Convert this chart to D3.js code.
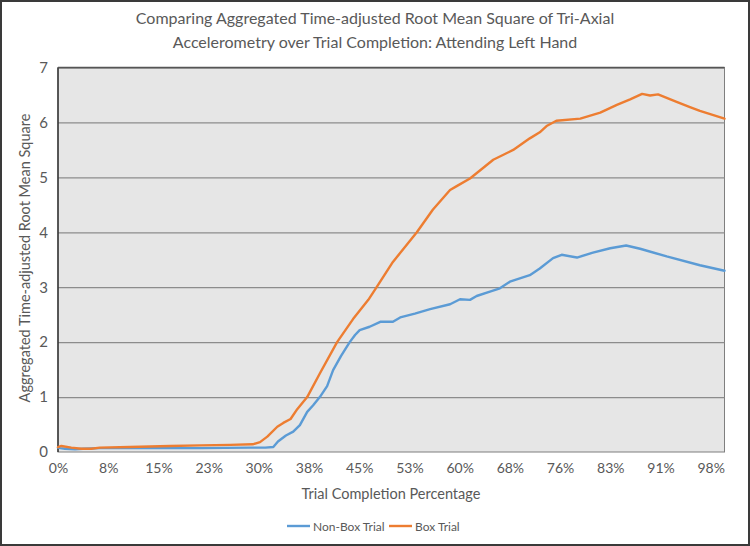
<!DOCTYPE html>
<html><head><meta charset="utf-8">
<script src="https://cdn.jsdelivr.net/npm/d3@7"></script>
<style>
body{margin:0;background:#fff}
svg{display:block}
text{font-family:Lato,"Liberation Sans",sans-serif;fill:#595959}
</style>
</head><body>
<svg id="chart" width="750" height="546"></svg>
<script>
const titleLines = ["Comparing Aggregated Time-adjusted Root Mean Square of Tri-Axial",
                    "Accelerometry over Trial Completion: Attending Left Hand"];
const xAxisTitle = "Trial Completion Percentage";
const yAxisTitle = "Aggregated Time-adjusted Root Mean Square";
const xTickLabels = ["0%","8%","15%","23%","30%","38%","45%","53%","60%","68%","76%","83%","91%","98%"];
const xTickValues = [0,7.56,15.11,22.67,30.22,37.78,45.33,52.89,60.44,68.0,75.56,83.11,90.67,98.22];
const yTicks = [0,1,2,3,4,5,6,7];
const seriesNames = ["Non-Box Trial","Box Trial"];
const seriesColors = ["#5b9bd5","#ed7d31"];

// Non-Box Trial (completion %, value)
const nonBoxX = [0,0.3,1.05,2.56,3.76,6.3,13.8,21.4,28.9,31.2,32.4,33.1,34.3,35.4,36.4,37.5,38.4,39.4,40.5,41.4,42.6,43.9,44.7,45.4,46.9,48.5,50.4,51.5,53.7,56.0,59.0,60.5,62.0,63.0,65.0,66.5,68.0,71.0,72.5,74.5,75.8,78.1,80.5,83.1,85.5,87.6,91.6,96.6,100.3];
const nonBoxY = [0.08,0.07,0.06,0.05,0.06,0.07,0.07,0.07,0.08,0.08,0.09,0.19,0.30,0.37,0.49,0.73,0.85,1.00,1.20,1.49,1.75,2.00,2.13,2.22,2.28,2.37,2.37,2.45,2.52,2.60,2.69,2.78,2.77,2.84,2.92,2.98,3.10,3.22,3.34,3.53,3.59,3.54,3.63,3.71,3.76,3.70,3.56,3.40,3.30];

// Box Trial (completion %, value)
const boxX = [0,0.5,2.0,3.5,5.0,6.3,10.8,16.9,21.4,25.9,29.3,30.4,31.5,33.0,33.9,35.0,36.0,37.5,39.4,42.0,44.4,46.7,48.0,50.4,54.0,56.4,59.0,60.0,62.0,65.5,68.5,71.0,72.5,73.6,75.0,78.6,81.6,84.1,86.1,87.9,89.1,90.3,93.0,95.1,96.6,100.3];
const boxY = [0.09,0.11,0.08,0.06,0.06,0.08,0.09,0.11,0.12,0.13,0.14,0.18,0.28,0.46,0.53,0.60,0.78,1.00,1.43,2.00,2.42,2.77,3.01,3.46,4.00,4.41,4.77,4.84,4.98,5.32,5.50,5.71,5.82,5.94,6.03,6.07,6.18,6.32,6.42,6.52,6.49,6.51,6.38,6.28,6.21,6.07];

const svg = d3.select("#chart");
const W = 750, H = 546;
const m = {left:58, right:25.5, top:67.5, bottom:94};
const x = d3.scaleLinear().domain([0,100.3]).range([m.left, W - m.right]);
const y = d3.scaleLinear().domain([0,7]).range([H - m.bottom, m.top]);

// outer frame
svg.append("rect").attr("x",1).attr("y",1).attr("width",W-2).attr("height",H-2)
  .attr("fill","#fff").attr("stroke","#3a3a3a").attr("stroke-width",2);

// plot area
svg.append("rect").attr("x",x(0)).attr("y",y(7)).attr("width",x(100.3)-x(0)).attr("height",y(0)-y(7))
  .attr("fill","#e6e6e6").attr("stroke","#7f7f7f").attr("stroke-width",1);

// gridlines
const yAxis = d3.axisLeft(y).tickValues(yTicks).tickSize(-(x(100.3)-x(0))).tickFormat(d3.format("d")).tickPadding(10);
const gy = svg.append("g").attr("transform",`translate(${m.left},0)`).call(yAxis);
gy.select(".domain").remove();
gy.selectAll(".tick line").attr("stroke","#8c8c8c").attr("stroke-width",1.3)
  .filter(d => d === 0).attr("stroke","none");
gy.selectAll(".tick text").attr("font-size",15).style("fill","#595959");

// left axis line
svg.append("line").attr("x1",x(0)).attr("x2",x(0)).attr("y1",y(7)).attr("y2",y(0))
  .attr("stroke","#222").attr("stroke-width",1.3);
// top border
svg.append("line").attr("x1",x(0)).attr("x2",x(100.3)).attr("y1",y(7)).attr("y2",y(7))
  .attr("stroke","#555").attr("stroke-width",1.3);

// x axis labels
const xAxis = d3.axisBottom(x).tickValues(xTickValues).tickSize(0).tickPadding(11)
  .tickFormat((d,i) => xTickLabels[i]);
const gx = svg.append("g").attr("transform",`translate(0,${y(0)})`).call(xAxis);
gx.select(".domain").remove();
gx.selectAll(".tick text").attr("font-size",14).style("fill","#595959");

// lines
const line = d3.line().x(d => x(d[0])).y(d => y(d[1]));
const series = [d3.zip(nonBoxX, nonBoxY), d3.zip(boxX, boxY)];
series.forEach((s,i) => {
  svg.append("path").datum(s).attr("d", line).attr("fill","none")
    .attr("stroke", seriesColors[i]).attr("stroke-width",2.4)
    .attr("stroke-linejoin","round").attr("stroke-linecap","round");
});

// titles
titleLines.forEach((t,i) => {
  svg.append("text").attr("x",375).attr("y",24 + i*24).attr("text-anchor","middle")
    .attr("font-size",16).text(t);
});
svg.append("text").attr("x",391).attr("y",499).attr("text-anchor","middle")
  .attr("font-size",14.5).text(xAxisTitle);
svg.append("text").attr("transform","translate(30,258) rotate(-90)").attr("text-anchor","middle")
  .attr("font-size",14.5).text(yAxisTitle);

// legend
const legX = [287, 389];
seriesNames.forEach((n,i) => {
  svg.append("line").attr("x1",legX[i]).attr("x2",legX[i]+23).attr("y1",526).attr("y2",526)
    .attr("stroke",seriesColors[i]).attr("stroke-width",2.4);
  svg.append("text").attr("x",legX[i]+26).attr("y",530.5).attr("font-size",12).text(n);
});
</script>
</body></html>
